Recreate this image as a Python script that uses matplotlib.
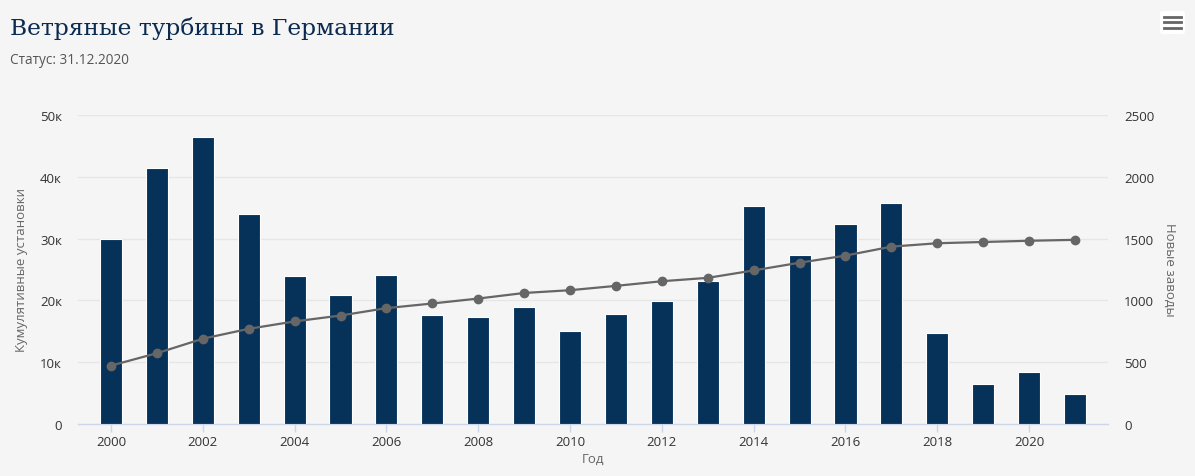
import matplotlib
matplotlib.use("Agg")
import matplotlib.pyplot as plt
from matplotlib.patches import FancyBboxPatch
from matplotlib.ticker import FixedLocator, FuncFormatter

plt.rcParams['font.family'] = ['Open Sans', 'DejaVu Sans']

years = list(range(2000, 2022))
new_plants = [1495, 2070, 2325, 1700, 1195, 1045, 1205, 880, 865, 950, 755,
              890, 995, 1155, 1765, 1365, 1620, 1790, 740, 320, 420, 240]
cumulative = [9450, 11450, 13800, 15400, 16600, 17550, 18750, 19500, 20300, 21200, 21650,
              22350, 23100, 23650, 24850, 26100, 27250, 28700, 29250, 29450, 29650, 29800]
left_ticks = [0, 10000, 20000, 30000, 40000, 50000]
right_ticks = [0, 500, 1000, 1500, 2000, 2500]

title = "Ветряные турбины в Германии"
subtitle = "Статус: 31.12.2020"
xlabel = "Год"
left_label = "Кумулятивные установки"
right_label = "Новые заводы"

BG = '#f5f5f5'
W, H = 1195, 477
fig = plt.figure(figsize=(W / 100, H / 100), dpi=100, facecolor=BG)

l, r, b, t = 78 / W, 1108 / W, 1 - 425 / H, 1 - 116 / H
ax2 = fig.add_axes([l, b, r - l, t - b])
ax = ax2.twinx()
ax2.set_facecolor(BG)
ax.patch.set_visible(False)
ax.set_zorder(ax2.get_zorder() + 1)

x = list(range(len(years)))
ax2.bar(x, new_plants, width=0.48, color='#06325a', edgecolor='#ffffff', linewidth=0.8, zorder=3)
ax.plot(x, cumulative, color='#666666', lw=1.6, marker='o', markersize=6,
        markerfacecolor='#666666', markeredgecolor='#666666', zorder=5)

pad = 10 / 45.9
ax2.set_xlim(-0.5 - pad, len(years) - 0.5 + pad)
ax2.set_ylim(0, 2500)
ax.set_ylim(0, 50000)

ax.yaxis.tick_left()
ax2.yaxis.tick_right()

ax.yaxis.set_major_locator(FixedLocator(left_ticks))
ax.yaxis.set_major_formatter(FuncFormatter(lambda v, p: '0' if v == 0 else f'{int(v/1000)}к'))
ax2.yaxis.set_major_locator(FixedLocator(right_ticks))
ax2.yaxis.set_major_formatter(FuncFormatter(lambda v, p: f'{int(v)}'))

for a in (ax, ax2):
    for s in a.spines.values():
        s.set_visible(False)
ax2.spines['bottom'].set_visible(True)
ax2.spines['bottom'].set_color('#ccd6eb')
ax2.spines['bottom'].set_linewidth(1)

for gy in left_ticks[1:]:
    ax2.axhline(gy / 20, color='#e6e6e6', lw=1, zorder=1)

ax.tick_params(axis='y', length=0, pad=11.5, labelsize=9.5, labelcolor='#333333')
ax2.tick_params(axis='y', length=0, pad=11.5, labelsize=9.5, labelcolor='#333333')
ax.tick_params(axis='x', length=0)

xt = [i for i, yv in enumerate(years) if yv % 2 == 0]
ax2.set_xticks(xt)
ax2.set_xticklabels([str(years[i]) for i in xt])
ax2.tick_params(axis='x', length=6, width=1, color='#ccd6eb', labelsize=9.5,
                labelcolor='#333333', pad=2)

ax2.set_xlabel(xlabel, fontsize=9.5, color='#666666', labelpad=3)
fig.text(22 / W, 1 - 270 / H, left_label, rotation=90, fontsize=9.5, color='#666666',
         ha='center', va='center')
fig.text(1170 / W, 1 - 270 / H, right_label, rotation=270, fontsize=9.5, color='#666666',
         ha='center', va='center')

fig.text(10 / W, 1 - 28 / H, title, family='DejaVu Serif', fontsize=16.8,
         color='#0b2a50', va='center', ha='left')
fig.text(10 / W, 1 - 60 / H, subtitle, fontsize=9.8, color='#555555', va='center', ha='left')

# menu icon
fig.patches.append(FancyBboxPatch((1160 / W, 1 - 35 / H), 25 / W, 23 / H,
                                  boxstyle='round,pad=0,rounding_size=0.004',
                                  transform=fig.transFigure, facecolor='white',
                                  edgecolor='none'))
for yy in (18, 23, 29):
    fig.lines.append(plt.Line2D([1164 / W, 1181 / W], [1 - yy / H, 1 - yy / H],
                                transform=fig.transFigure, color='#666666', lw=2))

fig.savefig('out.png', dpi=100, facecolor=BG)
